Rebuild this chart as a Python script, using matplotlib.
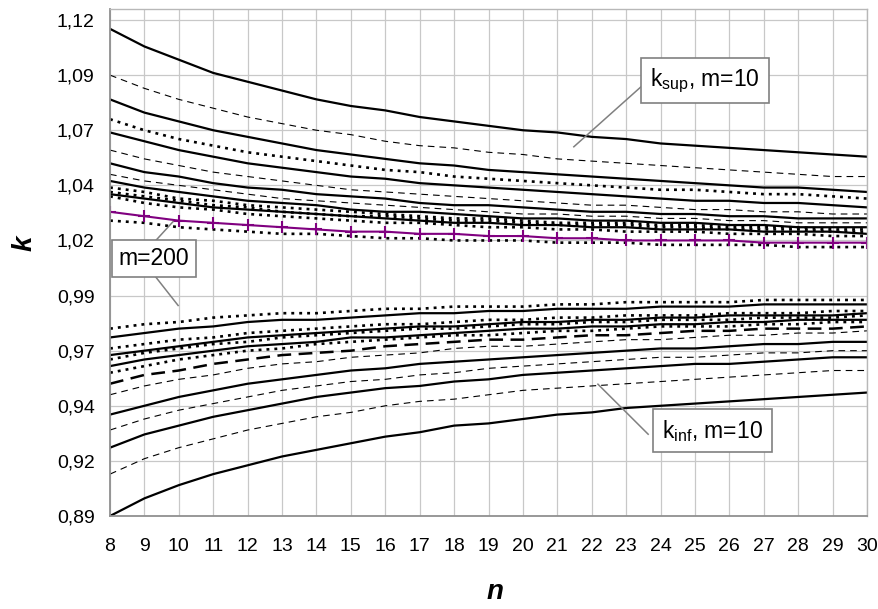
import matplotlib.pyplot as plt

plt.rcParams['font.family'] = ['Liberation Sans', 'DejaVu Sans']
plt.rcParams['mathtext.fontset'] = 'custom'
plt.rcParams['mathtext.rm'] = 'Liberation Sans'
plt.rcParams['mathtext.it'] = 'Liberation Sans:italic'

n = [8, 9, 10, 11, 12, 13, 14, 15, 16, 17, 18, 19, 20, 21, 22, 23, 24, 25, 26, 27, 28, 29, 30]

# k_sup curves (top to bottom at n=8)
sup_1 = [1.111, 1.103, 1.097, 1.091, 1.087, 1.083, 1.079, 1.076, 1.074, 1.071, 1.069, 1.067,
         1.065, 1.064, 1.062, 1.061, 1.059, 1.058, 1.057, 1.056, 1.055, 1.054, 1.053]
sup_2 = [1.090, 1.084, 1.079, 1.075, 1.071, 1.068, 1.065, 1.063, 1.060, 1.058, 1.057, 1.055,
         1.054, 1.052, 1.051, 1.050, 1.049, 1.048, 1.047, 1.046, 1.045, 1.044, 1.044]
sup_3 = [1.079, 1.073, 1.069, 1.065, 1.062, 1.059, 1.056, 1.054, 1.052, 1.050, 1.049, 1.047,
         1.046, 1.045, 1.044, 1.043, 1.042, 1.041, 1.040, 1.039, 1.039, 1.038, 1.037]
sup_4 = [1.070, 1.065, 1.061, 1.058, 1.055, 1.053, 1.051, 1.049, 1.047, 1.046, 1.044, 1.043,
         1.042, 1.041, 1.040, 1.039, 1.038, 1.038, 1.037, 1.036, 1.036, 1.035, 1.034]
sup_5 = [1.064, 1.060, 1.056, 1.053, 1.050, 1.048, 1.046, 1.044, 1.043, 1.041, 1.040, 1.039,
         1.038, 1.037, 1.036, 1.035, 1.034, 1.033, 1.033, 1.032, 1.032, 1.031, 1.030]
sup_6 = [1.056, 1.052, 1.049, 1.046, 1.044, 1.042, 1.040, 1.038, 1.037, 1.036, 1.035, 1.034,
         1.033, 1.032, 1.031, 1.031, 1.030, 1.029, 1.029, 1.028, 1.028, 1.027, 1.027]
sup_7 = [1.050, 1.046, 1.044, 1.041, 1.039, 1.038, 1.036, 1.035, 1.034, 1.032, 1.031, 1.031,
         1.030, 1.029, 1.028, 1.028, 1.027, 1.027, 1.026, 1.026, 1.025, 1.025, 1.025]
sup_8 = [1.045, 1.042, 1.040, 1.038, 1.036, 1.034, 1.033, 1.032, 1.031, 1.030, 1.029, 1.028,
         1.027, 1.027, 1.026, 1.026, 1.025, 1.025, 1.024, 1.024, 1.023, 1.023, 1.023]
sup_9 = [1.042, 1.039, 1.037, 1.035, 1.033, 1.032, 1.031, 1.029, 1.028, 1.028, 1.027, 1.026,
         1.025, 1.025, 1.024, 1.024, 1.023, 1.023, 1.022, 1.022, 1.021, 1.021, 1.021]
sup_10 = [1.039, 1.037, 1.034, 1.033, 1.031, 1.030, 1.029, 1.028, 1.027, 1.026, 1.025, 1.025,
          1.024, 1.023, 1.023, 1.023, 1.022, 1.022, 1.021, 1.021, 1.021, 1.020, 1.020]
sup_11 = [1.037, 1.035, 1.033, 1.031, 1.030, 1.028, 1.027, 1.026, 1.026, 1.025, 1.024, 1.024,
          1.023, 1.022, 1.022, 1.022, 1.021, 1.021, 1.020, 1.020, 1.020, 1.019, 1.019]
sup_12 = [1.036, 1.034, 1.032, 1.030, 1.029, 1.028, 1.027, 1.026, 1.025, 1.024, 1.023, 1.023,
          1.022, 1.022, 1.021, 1.021, 1.020, 1.020, 1.020, 1.019, 1.019, 1.019, 1.018]
sup_13 = [1.035, 1.032, 1.030, 1.029, 1.027, 1.026, 1.025, 1.024, 1.023, 1.023, 1.022, 1.021,
          1.021, 1.020, 1.020, 1.019, 1.019, 1.019, 1.018, 1.018, 1.018, 1.017, 1.017]
sup_m200 = [1.028, 1.026, 1.024, 1.023, 1.022, 1.021, 1.020, 1.019, 1.019, 1.018, 1.018, 1.017,
            1.017, 1.016, 1.016, 1.015, 1.015, 1.015, 1.015, 1.014, 1.014, 1.014, 1.014]
sup_15 = [1.024, 1.023, 1.021, 1.020, 1.019, 1.018, 1.018, 1.017, 1.016, 1.016, 1.015, 1.015,
          1.015, 1.014, 1.014, 1.014, 1.013, 1.013, 1.013, 1.013, 1.012, 1.012, 1.012]

# k_inf curves (top to bottom at n=8)
inf_1 = [0.975, 0.977, 0.978, 0.980, 0.981, 0.982, 0.982, 0.983, 0.984, 0.984, 0.985, 0.985,
         0.985, 0.986, 0.986, 0.987, 0.987, 0.987, 0.987, 0.988, 0.988, 0.988, 0.988]
inf_2 = [0.971, 0.973, 0.975, 0.976, 0.978, 0.979, 0.979, 0.980, 0.981, 0.982, 0.982, 0.983,
         0.983, 0.984, 0.984, 0.984, 0.985, 0.985, 0.985, 0.986, 0.986, 0.986, 0.986]
inf_3 = [0.966, 0.968, 0.970, 0.971, 0.973, 0.974, 0.975, 0.976, 0.977, 0.977, 0.978, 0.979,
         0.979, 0.980, 0.980, 0.981, 0.981, 0.981, 0.982, 0.982, 0.982, 0.983, 0.983]
inf_4 = [0.963, 0.965, 0.967, 0.969, 0.971, 0.972, 0.973, 0.974, 0.975, 0.976, 0.976, 0.977,
         0.978, 0.978, 0.979, 0.979, 0.980, 0.980, 0.981, 0.981, 0.981, 0.981, 0.982]
inf_5 = [0.961, 0.964, 0.966, 0.968, 0.969, 0.971, 0.972, 0.973, 0.974, 0.975, 0.975, 0.976,
         0.977, 0.977, 0.978, 0.978, 0.979, 0.979, 0.979, 0.980, 0.980, 0.980, 0.981]
inf_6 = [0.958, 0.961, 0.963, 0.965, 0.967, 0.968, 0.969, 0.971, 0.971, 0.972, 0.973, 0.974,
         0.975, 0.975, 0.976, 0.976, 0.977, 0.977, 0.978, 0.978, 0.979, 0.979, 0.979]
inf_7 = [0.955, 0.958, 0.961, 0.963, 0.965, 0.966, 0.968, 0.969, 0.970, 0.971, 0.972, 0.972,
         0.973, 0.974, 0.974, 0.975, 0.976, 0.976, 0.976, 0.977, 0.977, 0.978, 0.978]
inf_8 = [0.950, 0.954, 0.956, 0.959, 0.961, 0.963, 0.964, 0.965, 0.967, 0.968, 0.969, 0.970,
         0.970, 0.971, 0.972, 0.972, 0.973, 0.974, 0.974, 0.975, 0.975, 0.975, 0.976]
inf_9 = [0.945, 0.949, 0.952, 0.954, 0.957, 0.959, 0.960, 0.962, 0.963, 0.964, 0.966, 0.967,
         0.967, 0.968, 0.969, 0.970, 0.970, 0.971, 0.972, 0.972, 0.973, 0.973, 0.974]
inf_10 = [0.936, 0.940, 0.944, 0.947, 0.950, 0.952, 0.954, 0.956, 0.957, 0.959, 0.960, 0.961,
          0.962, 0.963, 0.964, 0.965, 0.966, 0.966, 0.967, 0.968, 0.968, 0.969, 0.969]
inf_11 = [0.929, 0.934, 0.938, 0.941, 0.944, 0.947, 0.949, 0.951, 0.952, 0.954, 0.955, 0.957,
          0.958, 0.959, 0.960, 0.961, 0.962, 0.962, 0.963, 0.964, 0.964, 0.965, 0.965]
inf_12 = [0.921, 0.927, 0.931, 0.935, 0.938, 0.941, 0.944, 0.946, 0.948, 0.949, 0.951, 0.952,
          0.954, 0.955, 0.956, 0.957, 0.958, 0.959, 0.959, 0.960, 0.961, 0.962, 0.962]
inf_13 = [0.909, 0.916, 0.921, 0.925, 0.929, 0.932, 0.935, 0.937, 0.940, 0.942, 0.943, 0.945,
          0.947, 0.948, 0.949, 0.950, 0.951, 0.952, 0.953, 0.954, 0.955, 0.956, 0.956]
inf_14 = [0.890, 0.898, 0.904, 0.909, 0.913, 0.917, 0.920, 0.923, 0.926, 0.928, 0.931, 0.932,
          0.934, 0.936, 0.937, 0.939, 0.940, 0.941, 0.942, 0.943, 0.944, 0.945, 0.946]

ytick_labels = ['0,89', '0,92', '0,94', '0,97', '0,99', '1,02', '1,04', '1,07', '1,09', '1,12']

# line styles
solid = dict(color='black', lw=1.6, ls='-')
dash = dict(color='black', lw=0.8, ls=(0, (6, 4.5)))
dot = dict(color='black', lw=1.9, ls=(0, (1.1, 1.9)))
longdash = dict(color='black', lw=1.8, ls=(0, (5.5, 3)))

upper = [(sup_1, solid), (sup_2, dash), (sup_3, solid), (sup_4, dot), (sup_5, solid),
         (sup_6, dash), (sup_7, solid), (sup_8, dash), (sup_9, solid), (sup_10, dot),
         (sup_11, dot), (sup_12, solid), (sup_13, dot), (sup_15, dot)]
lower = [(inf_1, dot), (inf_2, solid), (inf_3, dot), (inf_4, solid), (inf_5, dot),
         (inf_6, solid), (inf_7, dot), (inf_8, longdash), (inf_9, dash), (inf_10, solid),
         (inf_11, dash), (inf_12, solid), (inf_13, dash), (inf_14, solid)]

fig = plt.figure(figsize=(8.79, 6.09), dpi=100)
ax = fig.add_axes([110 / 879, 1 - 516 / 609, 757 / 879, 507 / 609])

for ys, st in upper + lower:
    ax.plot(n, ys, **st)
ax.plot(n, sup_m200, color='#800080', lw=1.5, marker='+', ms=9, mew=1.5)

ax.set_xlim(8, 30)
ax.set_ylim(0.89, 1.12)
ax.set_xticks(n)
ax.set_yticks([0.89 + 0.025 * i for i in range(10)])
ax.set_yticklabels(ytick_labels)
ax.tick_params(axis='both', length=0, labelsize=14)
ax.tick_params(axis='y', pad=11)
ax.tick_params(axis='x', pad=16)
ax.grid(color='#c8c8c8', lw=0.9)
ax.set_axisbelow(True)
for side in ['left', 'bottom']:
    ax.spines[side].set_color('#909090')
    ax.spines[side].set_linewidth(1.3)
for side in ['top', 'right']:
    ax.spines[side].set_color('#b8b8b8')
    ax.spines[side].set_linewidth(1.0)

fig.text(25 / 879, 1 - 243 / 609, 'k', rotation=90, fontsize=20, fontweight='bold',
         style='italic', ha='center', va='center')
fig.text(495 / 879, 1 - 592 / 609, 'n', fontsize=20, fontweight='bold',
         style='italic', ha='center', va='center')

# leader lines
lead = dict(color='#808080', lw=1.1, zorder=5)
ax.plot([23.46, 21.48], [1.0851, 1.0575], **lead)
ax.plot([9.25, 9.83], [1.0136, 1.0235], **lead)
ax.plot([9.25, 9.98], [1.0000, 0.9855], **lead)
ax.plot([23.64, 22.18], [0.9271, 0.9498], **lead)

box = dict(boxstyle='square,pad=0.38', fc='white', ec='#808080', lw=1.2)
ax.text(25.29, 1.0876, r'k$_{\mathrm{sup}}$, m=10', fontsize=16.5, ha='center', va='center',
        bbox=box, zorder=6)
ax.text(9.28, 1.0068, 'm=200', fontsize=16.5, ha='center', va='center',
        bbox=dict(boxstyle='square,pad=0.3', fc='white', ec='#808080', lw=1.2), zorder=6)
ax.text(25.51, 0.9287, r'k$_{\mathrm{inf}}$, m=10', fontsize=16.5, ha='center', va='center',
        bbox=box, zorder=6)

fig.savefig('out.png', dpi=100)
